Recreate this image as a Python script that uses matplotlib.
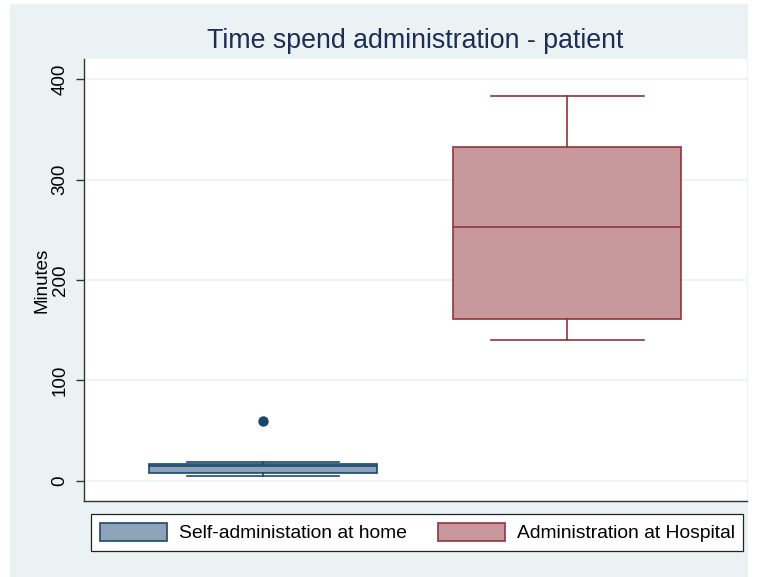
import matplotlib
matplotlib.use("Agg")
import matplotlib.pyplot as plt
from matplotlib.patches import Patch, Rectangle

plt.rcParams["font.family"] = ["Liberation Sans", "DejaVu Sans"]

# Box summaries (minutes)
groups = ["Self-administation at home", "Administration at Hospital"]
medians = [15, 253]
q1s = [8, 161]
q3s = [17, 332]
whisker_lo = [5, 140]
whisker_hi = [19, 383]
outliers = [[60], []]
positions = [0.27, 0.729]

y_ticks = [0, 100, 200, 300, 400]

edge_colors = ["#1a476f", "#90353b"]
fill_colors = ["#8ca3b8", "#c8999c"]
region_color = "#eaf2f3"

W, H = 759, 577
fig = plt.figure(figsize=(W / 100, H / 100), dpi=100)
fig.patch.set_facecolor("white")
fig.patches.append(Rectangle((10 / W, 0), (748 - 10) / W, (H - 4) / H,
                             transform=fig.transFigure, facecolor=region_color,
                             edgecolor="none", zorder=-10))

ax = fig.add_axes([84 / W, (H - 501) / H, (747 - 84) / W, (501 - 59) / H])
ax.set_facecolor("white")

stats = []
for i in range(len(groups)):
    stats.append({
        "med": medians[i], "q1": q1s[i], "q3": q3s[i],
        "whislo": whisker_lo[i], "whishi": whisker_hi[i],
        "fliers": outliers[i], "label": groups[i],
    })

for i, st in enumerate(stats):
    ec = edge_colors[i]
    ax.bxp([st], positions=[positions[i]], widths=0.344, capwidths=0.23,
           patch_artist=True, manage_ticks=False,
           boxprops=dict(facecolor=fill_colors[i], edgecolor=ec, linewidth=1.2),
           medianprops=dict(color=ec, linewidth=1.2),
           whiskerprops=dict(color=ec, linewidth=1.2),
           capprops=dict(color=ec, linewidth=1.2),
           flierprops=dict(marker="o", markerfacecolor=ec, markeredgecolor=ec,
                           markersize=6.5))

ax.set_xlim(0, 1)
ax.set_ylim(-20, 420)
ax.set_xticks([])
ax.set_yticks(y_ticks)
ax.set_yticklabels([str(t) for t in y_ticks], rotation=90, va="center", fontsize=13.5)
ax.tick_params(axis="y", direction="out", length=6, width=1, color="#333333", pad=5)
ax.grid(axis="y", color=region_color, linewidth=1.2)
ax.set_axisbelow(True)
for side in ["top", "right"]:
    ax.spines[side].set_visible(False)
for side in ["left", "bottom"]:
    ax.spines[side].set_color("#333333")
    ax.spines[side].set_linewidth(1)

ax.set_ylabel("Minutes", fontsize=13.5, labelpad=1)
fig.text((84 + 747) / 2 / W, (H - 41) / H, "Time spend administration - patient",
         fontsize=19.3, color="#1e2d53", ha="center", va="center")

handles = [Patch(facecolor=fill_colors[i], edgecolor=edge_colors[i], linewidth=1.2,
                 label=groups[i]) for i in range(len(groups))]
leg = ax.legend(handles=handles, ncol=2, loc="upper left",
                bbox_to_anchor=(91 / W, (H - 514) / H),
                bbox_transform=fig.transFigure, fontsize=13.9, frameon=True,
                fancybox=False, edgecolor="#222222", facecolor="white", framealpha=1,
                handlelength=3.5, handleheight=1.05, borderaxespad=0,
                borderpad=0.45, handletextpad=0.6, columnspacing=1.6)
leg.get_frame().set_linewidth(0.9)

fig.savefig("out.png", dpi=100)
